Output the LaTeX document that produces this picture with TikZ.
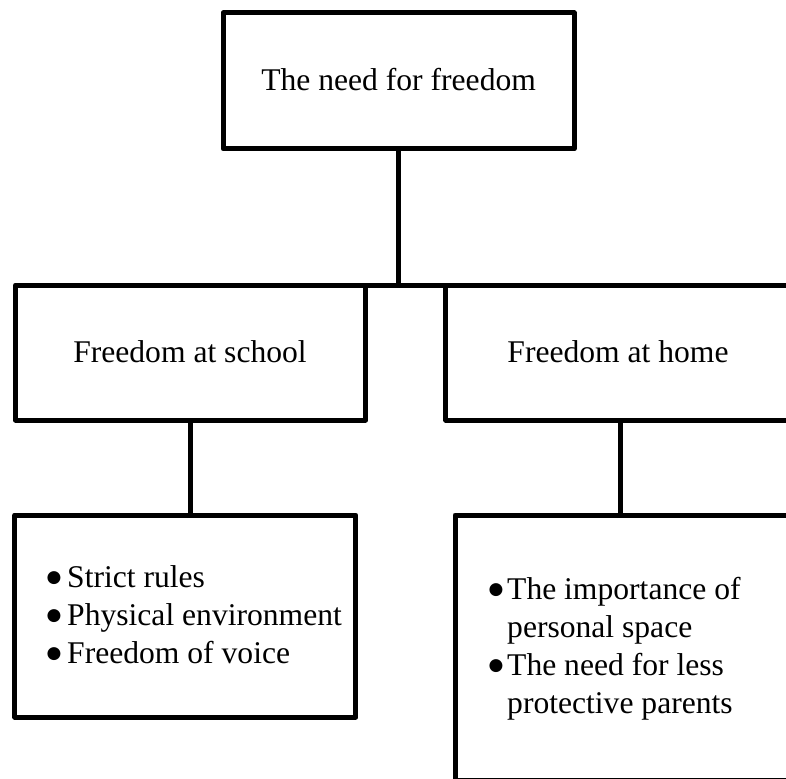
\documentclass[tikz,border=0pt]{standalone}
\usepackage{fontspec}
\setmainfont{Liberation Serif}
\newfontfamily\bulletfont{DejaVu Sans}
\newcommand{\bul}{\raisebox{5pt}{\fontsize{17}{17}\bulletfont ●}}
\begin{document}
\begin{tikzpicture}[x=1pt,y=-1pt,
  box/.style={draw=black, line width=5pt, line join=round, inner sep=0pt, outer sep=0pt},
  lbl/.style={font=\fontsize{31.6}{38}\selectfont, inner sep=0pt},
  listtext/.style={font=\fontsize{31.6}{38}\selectfont, inner sep=0pt, anchor=base west},
  conn/.style={draw=black, line width=5pt}]
\useasboundingbox (0,0) rectangle (786,778);
\clip (0,0) rectangle (786,778);
% boxes
\node[box, minimum width=351pt, minimum height=136pt] (top) at (398.6,81) {};
\node[box, minimum width=350pt, minimum height=135pt] (lm) at (190.5,352.5) {};
\node[box, minimum width=350pt, minimum height=135pt] (rm) at (620.7,352.5) {};
\node[box, minimum width=341pt, minimum height=202pt] (bl) at (185.3,616) {};
\node[box, minimum width=350pt, minimum height=265pt] (br) at (630,647.5) {};
% labels
\node[lbl] (toptext) at (398.6,80) {The need for freedom};
\node[lbl] (lmtext) at (190,352) {Freedom at school};
\node[lbl] (rmtext) at (618,352) {Freedom at home};
\node[listtext] (bltext) at (46.5,587) {\begin{tabular}[t]{@{}p{20.5pt}@{}l@{}}
\bul & Strict rules\\
\bul & Physical environment\\
\bul & Freedom of voice
\end{tabular}};
\node[listtext] (brtext) at (488.5,599) {\begin{tabular}[t]{@{}p{18.5pt}@{}l@{}}
\bul & The importance of\\
 & personal space\\
\bul & The need for less\\
 & protective parents
\end{tabular}};
% connectors
\draw[conn] (top.south) -- (top.south |- lm.north);
\draw[conn] (lm.north east) -- (rm.north west);
\draw[conn] (lm.south) -- (lm.south |- bl.north);
\draw[conn] (rm.south) -- (rm.south |- br.north);
\end{tikzpicture}
\end{document}
